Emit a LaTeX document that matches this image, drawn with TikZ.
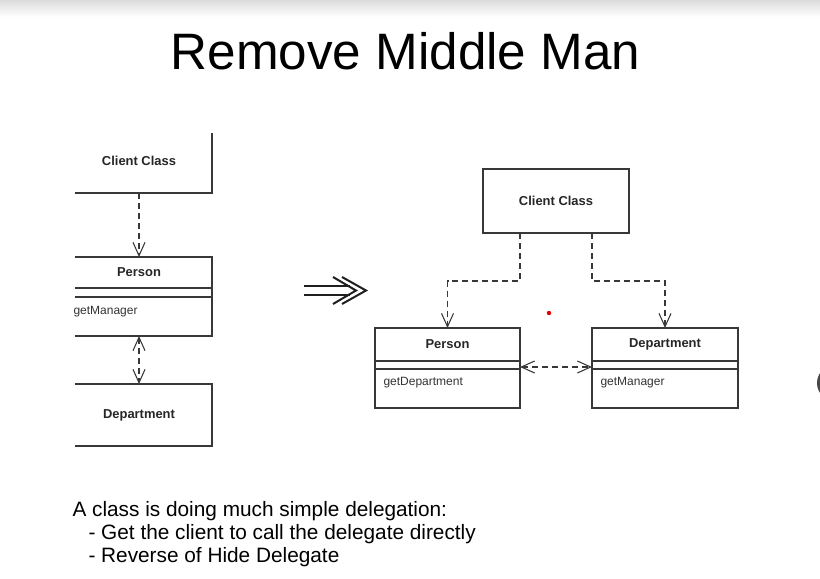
\documentclass[tikz,border=0pt]{standalone}
\usepackage{fontspec}
\setmainfont{Liberation Sans}
\usetikzlibrary{arrows.meta}

\tikzset{every picture/.style={line width=0.75pt}}
\tikzset{
  umlline/.style={draw=black!78, line width=0.9pt},
  classbox/.style={umlline, rectangle, inner sep=0pt, outer sep=0pt, font=\fontsize{9.7}{11}\selectfont\bfseries, text=black!85},
  clsname/.style={inner sep=0.75pt, font=\fontsize{9.7}{11}\selectfont\bfseries, text=black!85},
  clsop/.style={inner sep=0.75pt, anchor=west, font=\fontsize{9}{11}\selectfont, text=black!80},
  vtip/.tip={Straight Barb[length=10pt,width=9pt,line width=0.8pt]},
  depline/.style={umlline, dash pattern=on 4.5pt off 3pt, -vtip},
  deptwo/.style={umlline, dash pattern=on 4.5pt off 3pt, vtip-vtip},
  bigarrow/.style={draw=black!88, line width=1.5pt},
  desctext/.style={anchor=base west, inner sep=0pt, font=\fontsize{15.6}{18}\selectfont},
}

\begin{document}
\begin{tikzpicture}[x=0.75pt,y=0.75pt,yscale=-1,xscale=1]
\path[use as bounding box, fill=white] (0,0) rectangle (820,578);

%Shade: top band
\shade[top color=black!14, bottom color=white] (0,0) rectangle (820,17);

% Text Node
\node[anchor=base, inner sep=0pt, font=\fontsize{38.4}{44}\selectfont] (title) at (405.5,69) {Remove Middle Man};

%Left diagram, cut on the left and at the top
\begin{scope}
\clip (75,133) rectangle (820,578);
%Shape: Rectangle
\node[classbox, minimum width=109.5pt, minimum height=48.75pt] (lclient) at (139,160.5) {Client Class};
%Shape: Rectangle
\node[classbox, minimum width=109.5pt, minimum height=59.25pt] (lperson) at (139,296.5) {};
\draw[umlline] (lperson.west |- 0,288) -- (lperson.east |- 0,288);
\draw[umlline] (lperson.west |- 0,297) -- (lperson.east |- 0,297);
%Shape: Rectangle
\node[classbox, minimum width=109.5pt, minimum height=46.5pt] (ldept) at (139,415) {Department};
\end{scope}

% Text Node
\node[clsname] (lpersonname) at (139,272) {Person};
% Text Node
\node[clsop] (lpersonop) at (72,312) {getManager};

%Straight Lines
\draw[depline] (lclient.south) -- (lperson.north);
\draw[deptwo] (lperson.south) -- (ldept.north);

%Double arrow
\draw[bigarrow] (304,285.5) -- (350,285.5);
\draw[bigarrow] (304,295) -- (350,295);
\draw[bigarrow, line join=miter] (342,277) -- (366,290.5) -- (342,304);
\draw[bigarrow, line join=miter] (333,277) -- (356,290.5) -- (333,304);

%Right diagram
\node[classbox, minimum width=109.5pt, minimum height=48pt] (rclient) at (556,201) {Client Class};
%Shape: Rectangle
\node[classbox, minimum width=108.75pt, minimum height=60pt] (rperson) at (447.5,368) {};
\draw[umlline] (rperson.west |- 0,361) -- (rperson.east |- 0,361);
\draw[umlline] (rperson.west |- 0,369) -- (rperson.east |- 0,369);
%Shape: Rectangle
\node[classbox, minimum width=109.5pt, minimum height=60pt] (rdept) at (665,368) {};
\draw[umlline] (rdept.west |- 0,361) -- (rdept.east |- 0,361);
\draw[umlline] (rdept.west |- 0,369) -- (rdept.east |- 0,369);

% Text Node
\node[clsname] (rpersonname) at (447.5,344) {Person};
% Text Node
\node[clsop] (rpersonop) at (382,383) {getDepartment};
% Text Node
\node[clsname] (rdeptname) at (665,344) {Department};
% Text Node
\node[clsop] (rdeptop) at (599,383) {getManager};

%Straight Lines
\draw[depline] ([xshift=27.75pt]rclient.south west) -- ++(0,48) -| (rperson.north);
\draw[depline] ([xshift=-27.75pt]rclient.south east) -- ++(0,48) -| (rdept.north);
\draw[deptwo] ([yshift=-0.75pt]rperson.east) -- ([yshift=-0.75pt]rdept.west);

%Pointer and edge marks
\fill[red!90!black] (549,313) circle (2.2);
\fill[black!72] (835,383) circle (18);

% Text Node
\node[desctext] (desc1) at (72,516) {A class is doing much simple delegation:};
% Text Node
\node[desctext] (desc2) at (88,539) {- Get the client to call the delegate directly};
% Text Node
\node[desctext] (desc3) at (88,562) {- Reverse of Hide Delegate};

\end{tikzpicture}
\end{document}
